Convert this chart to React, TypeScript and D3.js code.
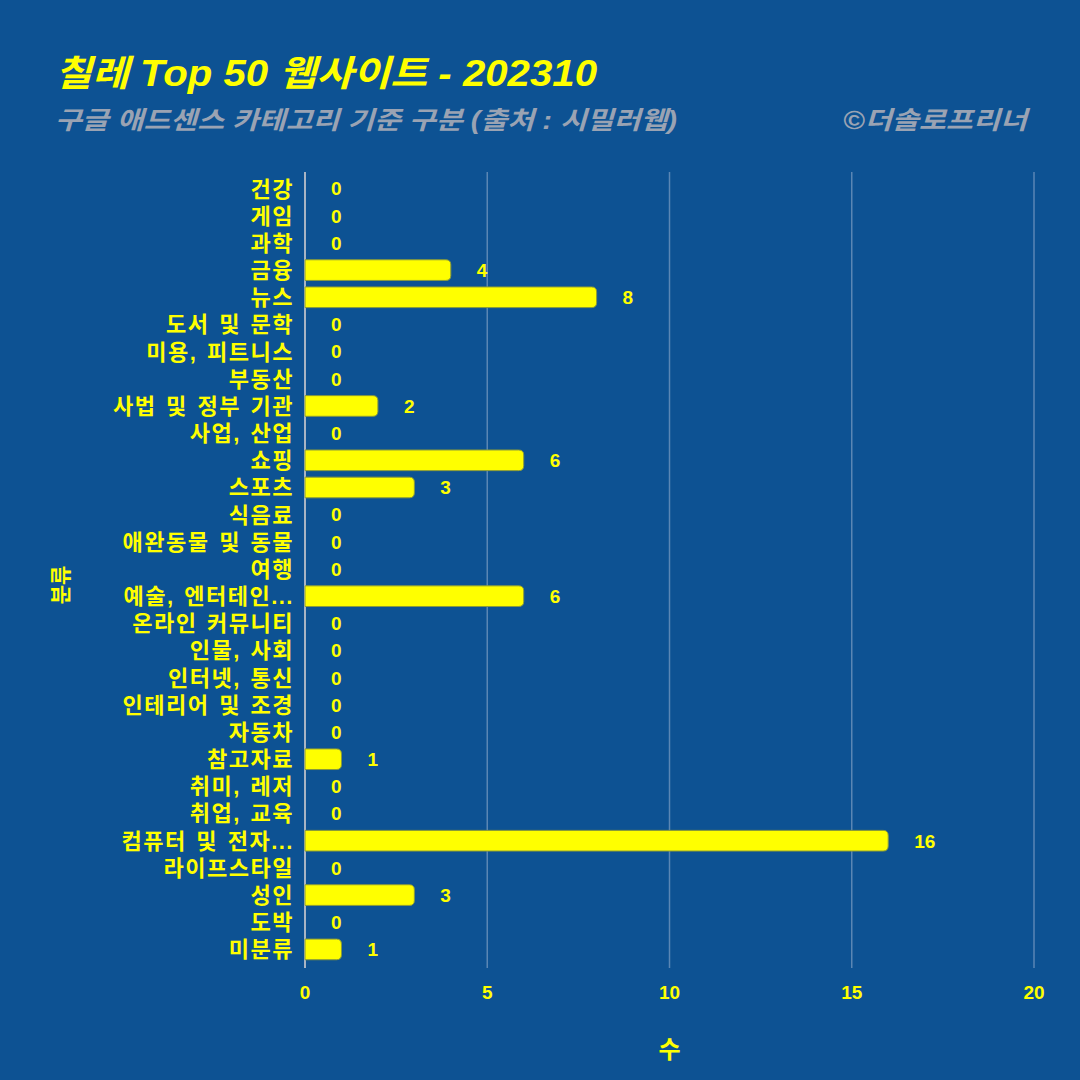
import React from "react";
import * as d3 from "d3";

const categories = ["건강","게임","과학","금융","뉴스","도서 및 문학","미용, 피트니스","부동산","사법 및 정부 기관","사업, 산업","쇼핑","스포츠","식음료","애완동물 및 동물","여행","예술, 엔터테인...","온라인 커뮤니티","인물, 사회","인터넷, 통신","인테리어 및 조경","자동차","참고자료","취미, 레저","취업, 교육","컴퓨터 및 전자...","라이프스타일","성인","도박","미분류"];
const values = [0,0,0,4,8,0,0,0,2,0,6,3,0,0,0,6,0,0,0,0,0,1,0,0,16,0,3,0,1];
const xTicks = [0,5,10,15,20];
const title = "칠레 Top 50 웹사이트 - 202310";
const subtitle = "구글 애드센스 카테고리 기준 구분 (출처 : 시밀러웹)";
const credit = "©더솔로프리너";
const xLabel = "수";
const yLabel = "분류";

const W = 1080, H = 1080;
const BG = "#0d5293";
const YEL = "#ffff00";
const FONT = "'Liberation Sans', 'Noto Sans CJK KR', sans-serif";

export default function App() {
  const x = d3.scaleLinear().domain([0, 20]).range([305, 1034]);
  const y = d3.scaleBand().domain(categories).range([175, 963]).paddingInner(0.24).paddingOuter(0.12);
  const bh = y.bandwidth();
  const r = 5;
  const barPath = (v: number, top: number) => {
    const x0 = x(0), x1 = x(v);
    const w = x1 - x0;
    if (w <= 0) return "";
    const rr = Math.min(r, w, bh / 2);
    return `M${x0},${top}H${x1 - rr}Q${x1},${top} ${x1},${top + rr}V${top + bh - rr}Q${x1},${top + bh} ${x1 - rr},${top + bh}H${x0}Z`;
  };
  return (
    <svg width={W} height={H} style={{ display: "block", position: "absolute", left: 0, top: 0 }} fontFamily={FONT}>
      <rect width={W} height={H} fill={BG} />
      <text x={55} y={86} fill={YEL} fontSize={36} fontWeight="bold" fontStyle="italic" textLength={542} lengthAdjust="spacingAndGlyphs">{title}</text>
      <text x={55} y={129} fill="#9aa3b3" fontSize={25} fontWeight="bold" fontStyle="italic" textLength={622} lengthAdjust="spacingAndGlyphs">{subtitle}</text>
      <text x={843} y={129} fill="#9aa3b3" fontSize={25} fontWeight="bold" fontStyle="italic" textLength={184} lengthAdjust="spacingAndGlyphs">{credit}</text>
      {xTicks.map(t => (
        <line key={t} x1={x(t)} x2={x(t)} y1={172} y2={968} stroke={t === 0 ? "#a8b4c4" : "#5a86b4"} strokeWidth={t === 0 ? 2 : 1.5} />
      ))}
      {categories.map((c, i) => {
        const top = y(c)!;
        const v = values[i];
        return (
          <g key={c}>
            {v > 0 && <path d={barPath(v, top)} fill={YEL} stroke="#8a9a3a" strokeWidth={1} />}
            <text x={x(v) + 26} y={top + bh / 2} dy="0.36em" fill={YEL} fontSize={19} fontWeight="bold">{v}</text>
            <text x={294} y={top + bh / 2} dy="0.36em" fill={YEL} fontSize={22} fontWeight="bold" textAnchor="end" letterSpacing={1.5} wordSpacing={2}>{c}</text>
          </g>
        );
      })}
      {xTicks.map(t => (
        <text key={"l" + t} x={x(t)} y={999} fill={YEL} fontSize={19} fontWeight="bold" textAnchor="middle">{t}</text>
      ))}
      <text x={x(10)} y={1058} fill={YEL} fontSize={24} fontWeight="bold" textAnchor="middle">{xLabel}</text>
      <text transform="translate(60,585) rotate(-90)" fill={YEL} fontSize={21} fontWeight="bold" textAnchor="middle" dy="0.36em">{yLabel}</text>
    </svg>
  );
}
